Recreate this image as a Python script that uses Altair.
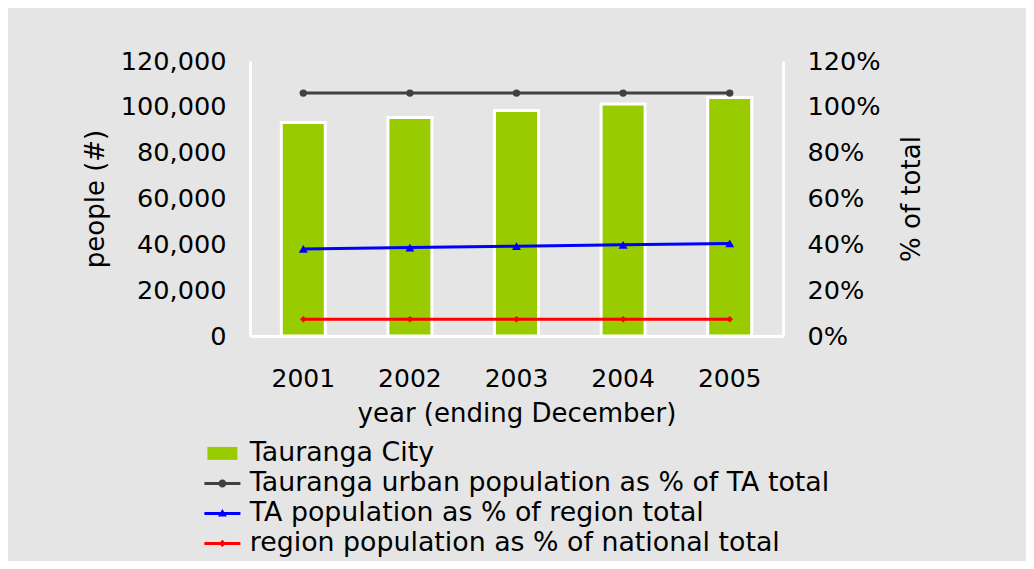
import altair as alt
import pandas as pd

years = ["2001", "2002", "2003", "2004", "2005"]
tauranga_city = [93200, 95300, 98400, 101200, 104100]
urban_pct_of_ta = [1.06, 1.06, 1.06, 1.06, 1.06]
ta_pct_of_region = [0.380, 0.386, 0.392, 0.398, 0.404]
region_pct_of_nation = [0.073, 0.073, 0.073, 0.073, 0.073]

series_names = [
    "Tauranga City",
    "Tauranga urban population as % of TA total",
    "TA population as % of region total",
    "region population as % of national total",
]
series_colors = ["#99CC00", "#404040", "#0000FF", "#FF0000"]

y_left_ticks = [0, 20000, 40000, 60000, 80000, 100000, 120000]
y_right_ticks = [0, 0.2, 0.4, 0.6, 0.8, 1.0, 1.2]

FONT = "DejaVu Sans"
AX = 25
AXY = 25.6
TT = 26
LEG = 26.8

bars_df = pd.DataFrame({"year": years, "people": tauranga_city})
lines_df = pd.concat([
    pd.DataFrame({"year": years, "series": series_names[1], "pct": urban_pct_of_ta}),
    pd.DataFrame({"year": years, "series": series_names[2], "pct": ta_pct_of_region}),
    pd.DataFrame({"year": years, "series": series_names[3], "pct": region_pct_of_nation}),
], ignore_index=True)

x_enc = alt.X(
    "year:N",
    sort=years,
    scale=alt.Scale(paddingInner=0, paddingOuter=0),
    axis=alt.Axis(
        title="year (ending December)", labelAngle=0, labelFontSize=AX, titleFontSize=TT,
        labelFont=FONT, titleFont=FONT, labelColor="black", titleColor="black",
        titleFontWeight="normal", ticks=False, tickSize=0, labelPadding=30, titlePadding=9,
        domainColor="white", domainWidth=3,
    ),
)

bars = alt.Chart(bars_df).mark_bar(size=44, color="#99CC00", stroke="white", strokeWidth=3).encode(
    x=x_enc,
    y=alt.Y(
        "people:Q",
        scale=alt.Scale(domain=[0, 120000], nice=False),
        axis=alt.Axis(
            title="people (#)", values=y_left_ticks, format=",.0f", grid=False, ticks=False,
            tickSize=0, labelPadding=24, labelFontSize=AXY, titleFontSize=TT,
            labelFont=FONT, titleFont=FONT, labelColor="black", titleColor="black",
            titleFontWeight="normal", titlePadding=12, domainColor="white", domainWidth=3,
        ),
    ),
)

pct_axis = alt.Axis(
    title="% of total", orient="right", values=y_right_ticks, format=".0%", grid=False,
    ticks=False, tickSize=0, labelPadding=24, labelFontSize=AXY, titleFontSize=TT,
    labelFont=FONT, titleFont=FONT, labelColor="black", titleColor="black",
    titleFontWeight="normal", titlePadding=44, titleAngle=270, domainColor="white", domainWidth=3,
)
pct_scale = alt.Scale(domain=[0, 1.2], nice=False)

marker_shapes = ["circle", "triangle-up", "diamond"]
marker_sizes = [55, 80, 45]
line_layers = []
for name, col, shp, sz in zip(series_names[1:], series_colors[1:], marker_shapes, marker_sizes):
    base = alt.Chart(lines_df).transform_filter(alt.datum.series == name).encode(
        x=alt.X("year:N", sort=years),
        y=alt.Y("pct:Q", scale=pct_scale, axis=pct_axis),
    )
    line_layers.append(base.mark_line(strokeWidth=3, color=col))
    line_layers.append(base.mark_point(filled=True, opacity=1, shape=shp, size=sz, color=col))

legend_paths = [
    "M-1.875,-0.81H1.875V0.81H-1.875Z",
    "M-2.25,-0.19H2.25V0.19H-2.25Z M0.5,0A0.5,0.5 0 1,1 -0.5,0A0.5,0.5 0 1,1 0.5,0Z",
    "M-2.25,-0.19H2.25V0.19H-2.25Z M0,-0.56L0.56,0.38L-0.56,0.38Z",
    "M-2.25,-0.19H2.25V0.19H-2.25Z M0,-0.45L0.45,0L0,0.45L-0.45,0Z",
]

legend_def = alt.Legend(
    title=None, orient="none", legendX=-41, legendY=379, direction="vertical",
    symbolSize=256, labelFontSize=LEG, labelFont=FONT, labelColor="black",
    labelLimit=900, rowPadding=2, labelOffset=14, padding=0,
    symbolStrokeWidth=3, symbolOpacity=1,
    symbolStrokeColor={"expr": "datum.value === 'Tauranga City' ? 'white' : 'transparent'"},
)

legend_layer = alt.Chart(lines_df).transform_filter("false").mark_point(filled=True, opacity=1).encode(
    x=alt.X("year:N", sort=years),
    y=alt.Y("pct:Q", scale=pct_scale, axis=pct_axis),
    color=alt.Color("series:N", scale=alt.Scale(domain=series_names, range=series_colors), legend=legend_def),
    shape=alt.Shape("series:N", scale=alt.Scale(domain=series_names, range=legend_paths), legend=legend_def),
)

right = alt.layer(*line_layers, legend_layer)

chart = alt.layer(bars, right).resolve_scale(y="independent").properties(
    width=533,
    height=275,
    background="#E5E5E5",
    autosize=alt.AutoSizeParams(type="none"),
    padding={"left": 242, "top": 53, "right": 243, "bottom": 225},
).configure_view(strokeWidth=0)

chart.save("out.html", embed_options={"renderer": "svg", "actions": False})
